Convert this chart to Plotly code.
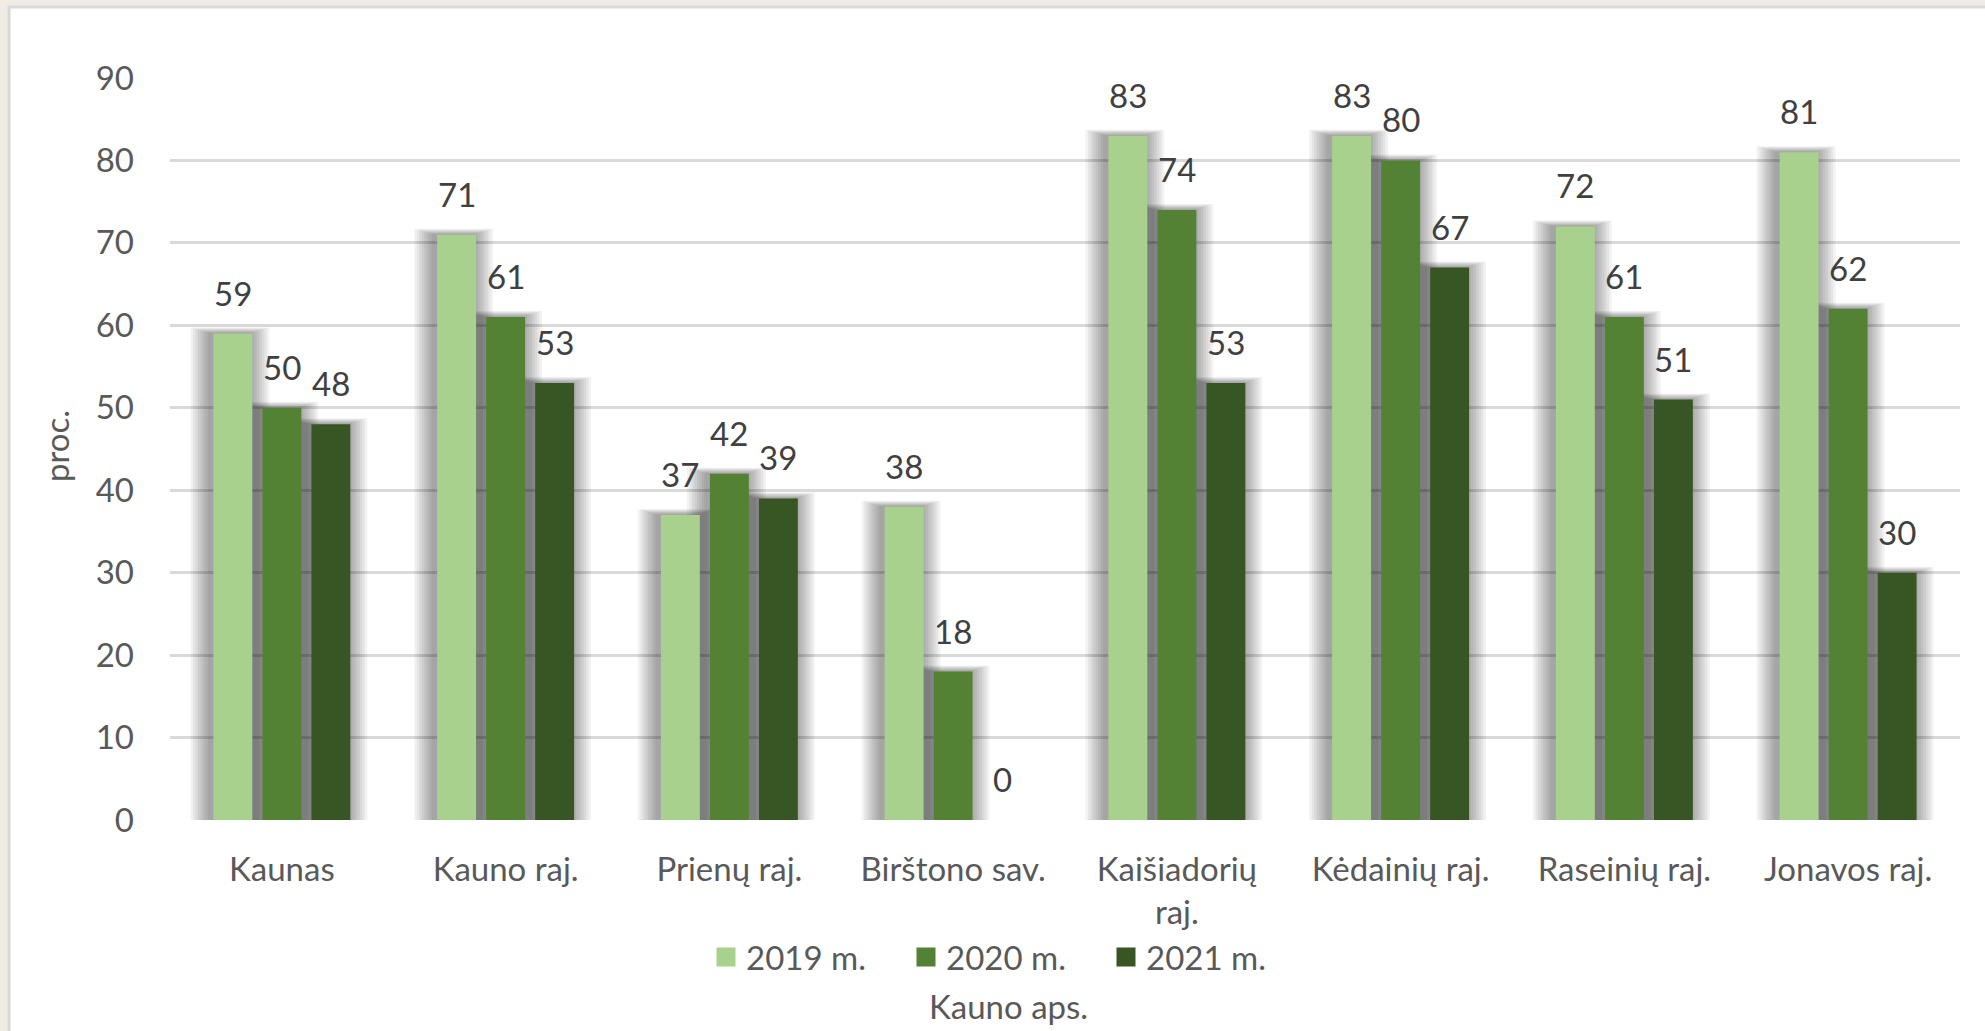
import plotly.graph_objects as go

categories = ["Kaunas", "Kauno raj.", "Prienų raj.", "Birštono sav.",
              "Kaišiadorių<br>raj.", "Kėdainių raj.", "Raseinių raj.", "Jonavos raj."]
years = ["2019 m.", "2020 m.", "2021 m."]
v2019 = [59, 71, 37, 38, 83, 83, 72, 81]
v2020 = [50, 61, 42, 18, 74, 80, 61, 62]
v2021 = [48, 53, 39, 0, 53, 67, 51, 30]
series = [v2019, v2020, v2021]
colors = ["#A9D18E", "#548235", "#375623"]

W, H = 1985, 1031
L, R, T, B = 170, 25, 78, 211
PW = W - L - R
PH = H - T - B
YMAX = 90
PXU = PH / YMAX              # pixels per y unit
CATPX = PW / len(categories)  # pixels per category

SLOT = 0.219
BAR_W = 0.174
FONT = "Lato"
TICK_C = "#595959"
LBL_C = "#404040"


def xp(px):
    return (px - L) / PW


def yp(py):
    return (H - B - py) / PH


fig = go.Figure()

# soft drop shadows behind bars
shadow_ext = [2.5, 5, 7.5, 10, 12.5, 15, 17.5, 20]
for si, vals in enumerate(series):
    centre = (si - 1) * SLOT
    for e in shadow_ext:
        w = BAR_W + 2 * e / CATPX
        ys = [v + (e * 0.3) / PXU if v > 0 else 0 for v in vals]
        fig.add_trace(go.Bar(
            x=categories, y=ys, width=w, offset=centre - w / 2 - 3 / CATPX,
            marker=dict(color="rgba(0,0,0,0.05)", line=dict(width=0)),
            showlegend=False, hoverinfo="skip"))

for si, vals in enumerate(series):
    centre = (si - 1) * SLOT
    fig.add_trace(go.Bar(
        x=categories, y=vals, width=BAR_W, offset=centre - BAR_W / 2,
        marker=dict(color=colors[si], line=dict(width=0)),
        name=years[si], showlegend=False))
    for ci, v in enumerate(vals):
        fig.add_annotation(x=ci + centre, y=v, xref="x", yref="y",
                           text=str(v), showarrow=False, yanchor="bottom",
                           yshift=19, font=dict(family=FONT, size=33, color=LBL_C))

# legend entries
for si in range(3):
    fig.add_trace(go.Scatter(
        x=[None], y=[None], mode="markers", name=years[si],
        marker=dict(symbol="square", size=16, color=colors[si],
                    line=dict(color=colors[si], width=3))))

shapes = [
    dict(type="rect", xref="paper", yref="paper", layer="below",
         x0=xp(9), x1=xp(W + 20), y0=yp(H + 20), y1=yp(7),
         fillcolor="white", line=dict(color="#D9D9D9", width=3)),
]

fig.add_annotation(text="proc.", xref="paper", yref="paper", x=xp(56), y=yp(446),
                   textangle=-90, showarrow=False, xanchor="center", yanchor="middle",
                   font=dict(family=FONT, size=33, color=TICK_C))
fig.add_annotation(text="Kauno aps.", xref="paper", yref="paper", x=xp(1008), y=yp(1006),
                   showarrow=False, xanchor="center", yanchor="middle",
                   font=dict(family=FONT, size=33, color=TICK_C))

fig.update_layout(
    width=W, height=H,
    margin=dict(l=L, r=R, t=T, b=B, autoexpand=False),
    paper_bgcolor="#EFECE5",
    plot_bgcolor="rgba(0,0,0,0)",
    barmode="overlay",
    shapes=shapes,
    font=dict(family=FONT, size=33, color=TICK_C),
    legend=dict(orientation="h", x=xp(706), xanchor="left", y=yp(957), yanchor="middle",
                font=dict(family=FONT, size=33, color=TICK_C), bgcolor="rgba(0,0,0,0)",
                entrywidth=155, entrywidthmode="pixels",
                itemsizing="trace", traceorder="normal"),
    xaxis=dict(type="category", showgrid=False, zeroline=False, showline=False,
               ticks="", ticklabelstandoff=27,
               tickfont=dict(family=FONT, size=33, color=TICK_C),
               range=[-0.5, len(categories) - 0.5]),
    yaxis=dict(range=[0, YMAX], dtick=10, showgrid=True, gridcolor="#D9D9D9", gridwidth=2.5,
               zeroline=False, showline=False, ticks="", ticklabelstandoff=35,
               tickfont=dict(family=FONT, size=33, color=TICK_C)),
)

fig.write_html("out.html", config={"displayModeBar": False},
               post_script="document.body.style.margin='0';")
